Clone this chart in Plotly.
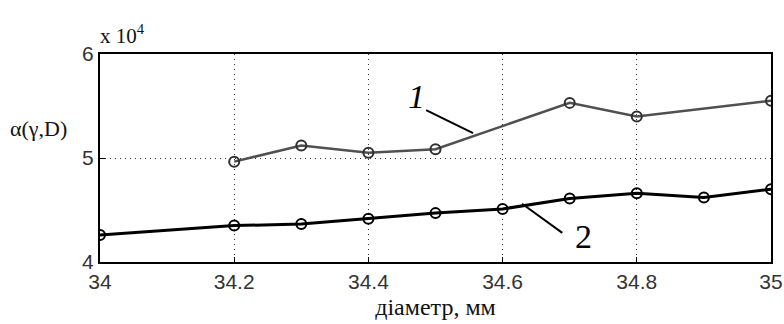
import plotly.graph_objects as go

# data (alpha in units of 10^4)
x1 = [34.2, 34.3, 34.4, 34.5, 34.7, 34.8, 35.0]
y1 = [4.965, 5.12, 5.05, 5.085, 5.53, 5.40, 5.55]
x2 = [34.0, 34.2, 34.3, 34.4, 34.5, 34.6, 34.7, 34.8, 34.9, 35.0]
y2 = [4.26, 4.35, 4.365, 4.416, 4.47, 4.51, 4.61, 4.66, 4.62, 4.70]
xticks = [34, 34.2, 34.4, 34.6, 34.8, 35]
xticklabels = ["34", "34.2", "34.4", "34.6", "34.8", "35"]
yticks = [4, 5, 6]

serif = "Liberation Serif"
sans = "Liberation Sans"

fig = go.Figure()
fig.add_trace(go.Scatter(x=x1, y=y1, mode="lines+markers",
                         line=dict(color="#505050", width=2.5),
                         marker=dict(symbol="circle-open", size=10, color="#303030",
                                     line=dict(width=2)),
                         showlegend=False))
fig.add_trace(go.Scatter(x=x2, y=y2, mode="lines+markers",
                         line=dict(color="#000000", width=3),
                         marker=dict(symbol="circle-open", size=10, color="#000000",
                                     line=dict(width=2)),
                         showlegend=False))

# callout lines
fig.add_shape(type="line", x0=34.486, y0=5.46, x1=34.556, y1=5.24,
              line=dict(color="black", width=2))
fig.add_shape(type="line", x0=34.629, y0=4.56, x1=34.689, y1=4.28,
              line=dict(color="black", width=2))

fig.add_annotation(x=34.471, y=5.59, text="<i>1</i>", showarrow=False,
                   font=dict(family=serif, size=34, color="black"))
fig.add_annotation(x=34.720, y=4.25, text="2", showarrow=False,
                   font=dict(family=serif, size=34, color="black"))

fig.add_annotation(xref="paper", yref="paper", x=-0.137, y=0.71,
                   text="α(γ,D)", showarrow=False, xanchor="left",
                   font=dict(family=serif, size=22, color="#111"))
fig.add_annotation(xref="paper", yref="paper", x=-0.003, y=1.02,
                   text="x 10<sup>4</sup>", showarrow=False, xanchor="left",
                   yanchor="bottom",
                   font=dict(family=serif, size=21, color="#111"))

grid = dict(showgrid=True, gridcolor="#333", griddash="1px,4px", gridwidth=1,
            showline=True, linecolor="black", linewidth=2, mirror=True,
            ticks="inside", ticklen=5, tickcolor="black", zeroline=False,
            automargin=False,
            tickfont=dict(family=sans, size=21, color="#333"))

fig.update_xaxes(range=[34, 35], tickvals=xticks, ticktext=xticklabels,
                 title=dict(text="діаметр, мм", standoff=6,
                            font=dict(family=serif, size=24, color="#111")),
                 **grid)
fig.update_yaxes(range=[4, 6], tickvals=yticks, **grid)

fig.update_layout(width=784, height=324, plot_bgcolor="white", paper_bgcolor="white",
                  margin=dict(l=100, r=13, t=54, b=62))

fig.write_html("out.html", config={"displayModeBar": False},
               post_script="document.body.style.margin='0';document.body.style.overflow='hidden';")
